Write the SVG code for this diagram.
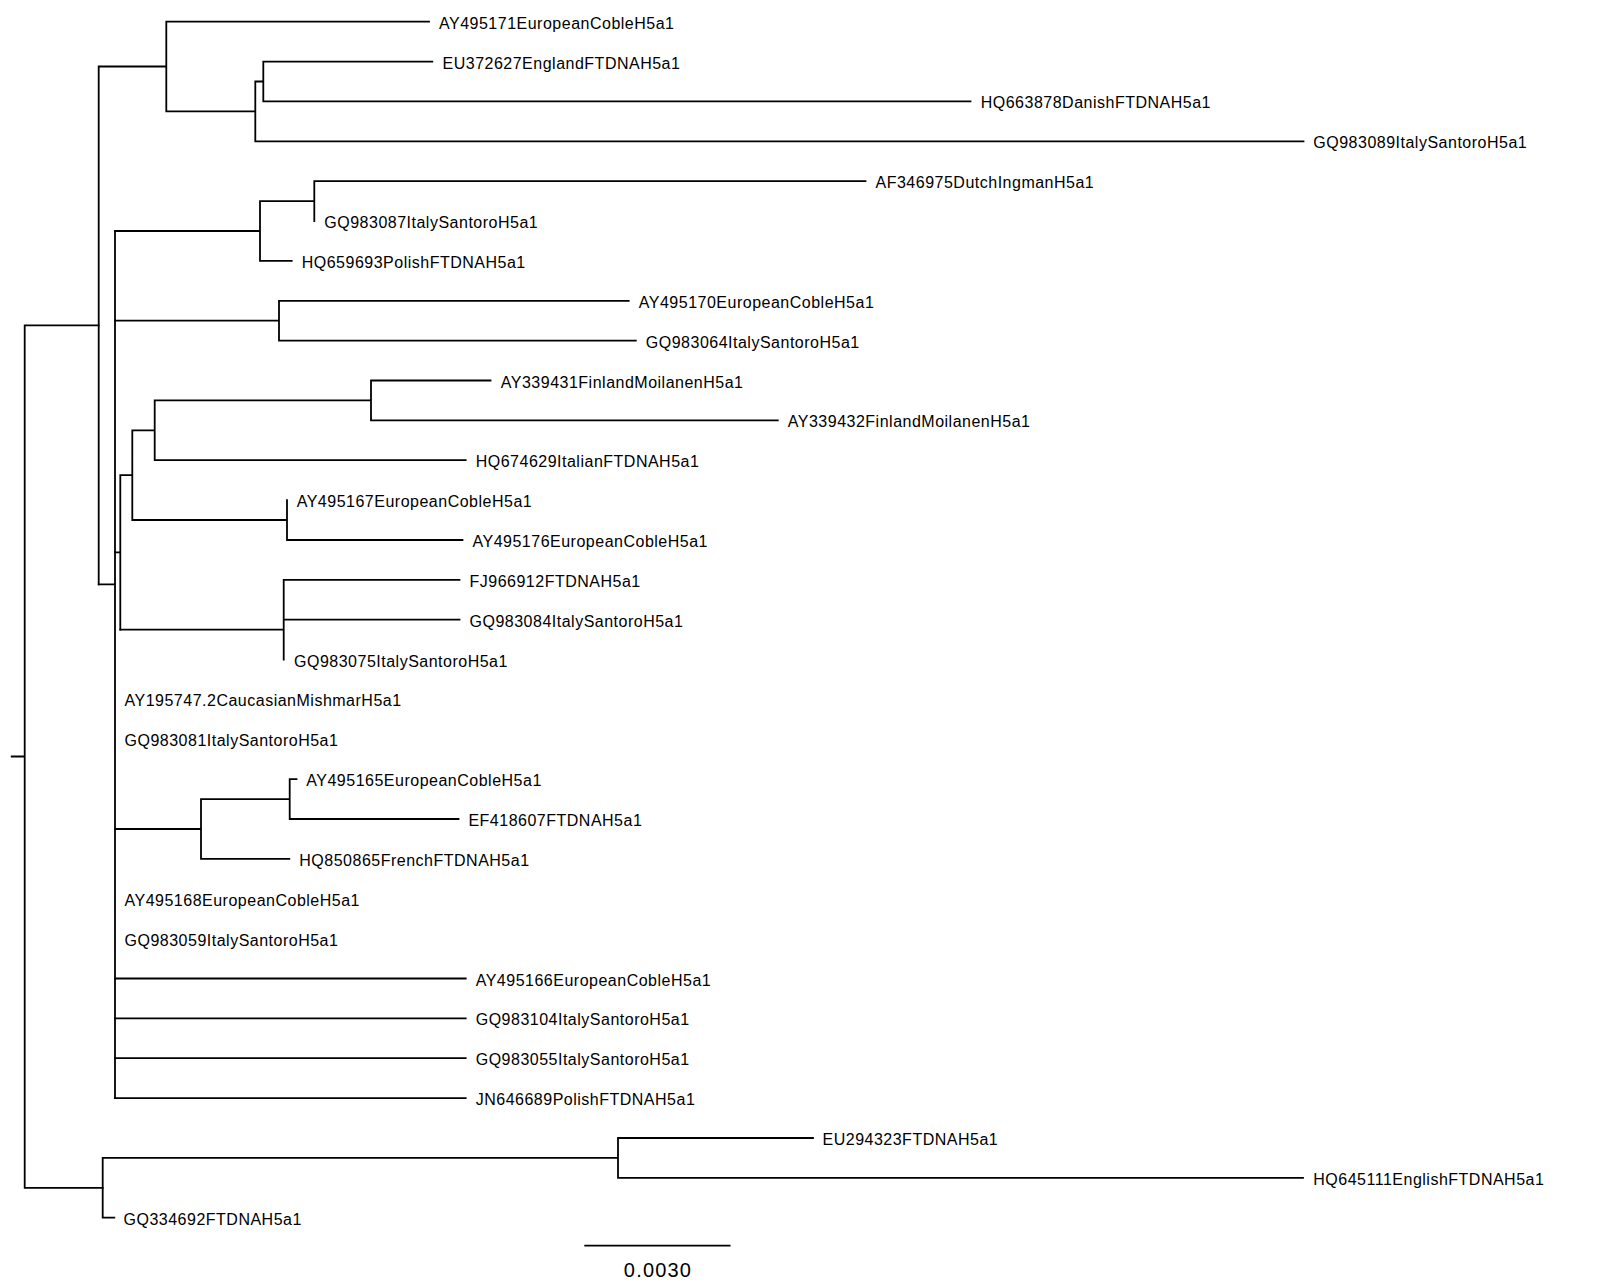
<svg xmlns="http://www.w3.org/2000/svg" width="1600" height="1282" viewBox="0 0 1600 1282">
<style>
.br{fill:none;stroke:#000;stroke-width:1.8;stroke-linecap:square}
.lb{font-family:"Liberation Sans",Arial,sans-serif;font-size:16px;letter-spacing:0.5px;fill:#000}
.sc{font-family:"Liberation Sans",Arial,sans-serif;font-size:20px;letter-spacing:1.2px;fill:#000;text-anchor:middle}
</style>
<rect width="1600" height="1282" fill="#fff"/>
<g id="connectors" class="br">
<path d="M11.7 756.5H24.7M24.7 325.4V1187.8M24.7 325.4H98.7M24.7 1187.8H102.7"/>
<path d="M98.7 66.5V584.3M98.7 66.5H166.3M166.3 21.7V111.4M166.3 21.7H429M166.3 111.4H255.3M255.3 81.5V141.3M255.3 141.3H1303.5M255.3 81.5H263.3M263.3 61.6V101.4M263.3 61.6H432.3M263.3 101.4H970.5"/>
<path d="M98.7 584.3H115M115 231V1098.1"/>
<path d="M115 231H260M260 201.1V260.9M260 201.1H314.3M314.3 181.2V221M314.3 181.2H865.5M260 260.9H291.7"/>
<path d="M115 320.7H279M279 300.8V340.6M279 300.8H628.7M279 340.6H635.8"/>
<path d="M115 552.4H120.3M120.3 475.2V629.7M120.3 475.2H132.3M132.3 430.3V520M132.3 430.3H154.7M154.7 400.4V460.2M154.7 400.4H371M371 380.5V420.4M371 380.5H490.5M371 420.4H777.8M154.7 460.2H465.7M132.3 520H287M287 500.1V540M287 540H462.5"/>
<path d="M120.3 629.7H283.7M283.7 579.8V659.6M283.7 579.8H459.5M283.7 619.7H459.5"/>
<path d="M115 829H201M201 799.1V858.9M201 799.1H289.7M289.7 779.2V819M289.7 779.2H296.5M289.7 819H458.5M201 858.9H289.3"/>
<path d="M115 978.5H465.7M115 1018.4H465.7M115 1058.2H465.7M115 1098.1H465.7"/>
<path d="M102.7 1157.9V1217.7M102.7 1217.7H114.3M102.7 1157.9H618M618 1138V1177.8M618 1138H813M618 1177.8H1303"/>
<path d="M585.2 1245.7H729.6"/>
</g>
<g id="t0"><text class="lb" x="439" y="28.7">AY495171EuropeanCobleH5a1</text></g>
<g id="t1"><text class="lb" x="442.5" y="68.6">EU372627EnglandFTDNAH5a1</text></g>
<g id="t2"><text class="lb" x="980.7" y="108.4">HQ663878DanishFTDNAH5a1</text></g>
<g id="t3"><text class="lb" x="1313.3" y="148.3">GQ983089ItalySantoroH5a1</text></g>
<g id="t4"><text class="lb" x="875.5" y="188.2">AF346975DutchIngmanH5a1</text></g>
<g id="t5"><text class="lb" x="324.3" y="228">GQ983087ItalySantoroH5a1</text></g>
<g id="t6"><text class="lb" x="301.7" y="267.9">HQ659693PolishFTDNAH5a1</text></g>
<g id="t7"><text class="lb" x="638.8" y="307.8">AY495170EuropeanCobleH5a1</text></g>
<g id="t8"><text class="lb" x="645.8" y="347.6">GQ983064ItalySantoroH5a1</text></g>
<g id="t9"><text class="lb" x="500.8" y="387.5">AY339431FinlandMoilanenH5a1</text></g>
<g id="t10"><text class="lb" x="787.8" y="427.4">AY339432FinlandMoilanenH5a1</text></g>
<g id="t11"><text class="lb" x="475.7" y="467.2">HQ674629ItalianFTDNAH5a1</text></g>
<g id="t12"><text class="lb" x="296.7" y="507.1">AY495167EuropeanCobleH5a1</text></g>
<g id="t13"><text class="lb" x="472.5" y="547">AY495176EuropeanCobleH5a1</text></g>
<g id="t14"><text class="lb" x="469.5" y="586.8">FJ966912FTDNAH5a1</text></g>
<g id="t15"><text class="lb" x="469.5" y="626.7">GQ983084ItalySantoroH5a1</text></g>
<g id="t16"><text class="lb" x="294" y="666.6">GQ983075ItalySantoroH5a1</text></g>
<g id="t17"><text class="lb" x="124.5" y="706.4">AY195747.2CaucasianMishmarH5a1</text></g>
<g id="t18"><text class="lb" x="124.5" y="746.3">GQ983081ItalySantoroH5a1</text></g>
<g id="t19"><text class="lb" x="306.3" y="786.2">AY495165EuropeanCobleH5a1</text></g>
<g id="t20"><text class="lb" x="468.4" y="826">EF418607FTDNAH5a1</text></g>
<g id="t21"><text class="lb" x="299.3" y="865.9">HQ850865FrenchFTDNAH5a1</text></g>
<g id="t22"><text class="lb" x="124.5" y="905.8">AY495168EuropeanCobleH5a1</text></g>
<g id="t23"><text class="lb" x="124.5" y="945.6">GQ983059ItalySantoroH5a1</text></g>
<g id="t24"><text class="lb" x="475.7" y="985.5">AY495166EuropeanCobleH5a1</text></g>
<g id="t25"><text class="lb" x="475.7" y="1025.4">GQ983104ItalySantoroH5a1</text></g>
<g id="t26"><text class="lb" x="475.7" y="1065.2">GQ983055ItalySantoroH5a1</text></g>
<g id="t27"><text class="lb" x="475.7" y="1105.1">JN646689PolishFTDNAH5a1</text></g>
<g id="t28"><text class="lb" x="822.5" y="1145">EU294323FTDNAH5a1</text></g>
<g id="t29"><text class="lb" x="1313.3" y="1184.8">HQ645111EnglishFTDNAH5a1</text></g>
<g id="t30"><text class="lb" x="123.5" y="1224.7">GQ334692FTDNAH5a1</text></g>
<g id="scale"><text class="sc" x="658" y="1276.5">0.0030</text></g>
</svg>
